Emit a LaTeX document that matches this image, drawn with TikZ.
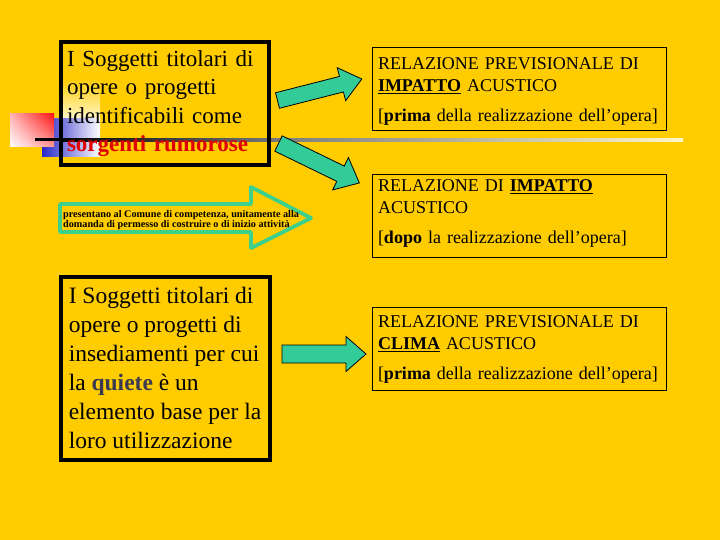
\documentclass[tikz,border=0pt]{standalone}
\usepackage{fontspec}
\setmainfont{Liberation Serif}
\usetikzlibrary{shadings}
\definecolor{bgyellow}{HTML}{FFCC00}
\definecolor{tealfill}{HTML}{33CC99}
\definecolor{greenline}{HTML}{3CD08C}
\definecolor{redtext}{HTML}{E00000}
\definecolor{quietecol}{HTML}{3A3A50}
\definecolor{paleline}{HTML}{FFF6C8}
\definecolor{decoblue}{HTML}{2828C8}
\definecolor{decoblueb}{HTML}{5A5AD7}
\definecolor{pinkul}{HTML}{FFB4B4}
\definecolor{pinkur}{HTML}{FF1414}
\definecolor{pinklr}{HTML}{FF9696}
\tikzset{
  bigbox/.style={draw=black, line width=4pt, outer sep=0pt, inner sep=0pt,
    anchor=north west, align=left,
    font=\fontsize{23}{28.5}\selectfont},
  relbox/.style={draw=black, line width=1pt, outer sep=0pt, inner sep=0pt,
    anchor=north west, minimum width=294pt},
  reltext/.style={inner sep=0pt, align=left, text width=282pt,
    font=\fontsize{18}{22}\selectfont},
  tealarrow/.style={draw=black, line width=0.8pt, fill=tealfill, line join=miter},
  outlinearrow/.style={draw=greenline, line width=3.8pt, line join=round},
  smalltext/.style={anchor=west, align=left, inner sep=0pt,
    font=\bfseries\fontsize{10.2}{10.6}\selectfont}
}
\begin{document}
\begin{tikzpicture}[x=1pt,y=-1pt]
\useasboundingbox (0,0) rectangle (720,540);
\fill[bgyellow] (0,0) rectangle (720,540);

% template decorations
\shade[top color=bgyellow, bottom color=paleline] (62,78) rectangle (100,119);
\shade[left color=decoblue, middle color=decoblueb, right color=white] (42,119) rectangle (100,157);
\shade[upper left=pinkul, upper right=pinkur, lower left=white, lower right=pinklr] (10,114) rectangle (54,147);
\fill[black] (35,138.5) rectangle (63,141.5);
\shade[left color=black, right color=gray] (63,138.5) rectangle (290,141.5);
\shade[left color=gray, right color=paleline] (290,138.5) rectangle (683,141.5);

% left boxes
\node[bigbox, minimum width=208pt, minimum height=123pt, text width=196pt] (src) at (61,42)
  {I Soggetti titolari di\\ opere o progetti\\ identificabili come\\ \textcolor{redtext}{\textbf{sorgenti rumorose}}};
\node[bigbox, minimum width=209pt, minimum height=183pt, font=\fontsize{23.5}{29}\selectfont] (quiet) at (60.5,276.5)
  {I Soggetti titolari di\\ opere o progetti di\\ insediamenti per cui\\ la \textcolor{quietecol}{\textbf{quiete}} è un\\ elemento base per la\\ loro utilizzazione};

% big outline arrow
\draw[outlinearrow] (60,204) -- (251,204) -- (251,187) -- (311,218) -- (251,248) -- (251,232) -- (60,232) -- cycle;
\node[smalltext] (pres) at (63,220)
  {presentano al Comune di competenza, unitamente alla\\ domanda di permesso di costruire o di inizio attività};

% right boxes
\node[relbox, minimum height=83pt] (relA) at (372,48) {};
\node[reltext] (relAt) at ([yshift=-2pt]relA.center)
  {RELAZIONE PREVISIONALE DI\\ \underline{\textbf{IMPATTO}} ACUSTICO\\[8pt] {[}\textbf{prima} della realizzazione dell’opera{]}};
\node[relbox, minimum height=82pt] (relB) at (372,175) {};
\node[reltext] (relBt) at ([yshift=2.5pt]relB.center)
  {RELAZIONE DI \underline{\textbf{IMPATTO}}\\ ACUSTICO\\[8pt] {[}\textbf{dopo} la realizzazione dell’opera{]}};
\node[relbox, minimum height=83pt] (relC) at (372,307) {};
\node[reltext] (relCt) at ([yshift=-1pt]relC.center)
  {RELAZIONE PREVISIONALE DI\\ \underline{\textbf{CLIMA}} ACUSTICO\\[8pt] {[}\textbf{prima} della realizzazione dell’opera{]}};

% teal block arrows
\begin{scope}[shift={(277.5,100.5)},rotate=14.3]
  \draw[tealarrow] (0,-8) -- (66,-8) -- (66,-17) -- (87,0) -- (66,17) -- (66,8) -- (0,8) -- cycle;
\end{scope}
\begin{scope}[shift={(278.5,143.5)},rotate=-26]
  \draw[tealarrow] (0,-8.5) -- (69,-8.5) -- (69,-18) -- (90,0) -- (69,18) -- (69,8.5) -- (0,8.5) -- cycle;
\end{scope}
\begin{scope}[shift={(282,354)}]
  \draw[tealarrow] (0,-9) -- (64,-9) -- (64,-17.5) -- (84,0) -- (64,17.5) -- (64,9) -- (0,9) -- cycle;
\end{scope}
\end{tikzpicture}
\end{document}
